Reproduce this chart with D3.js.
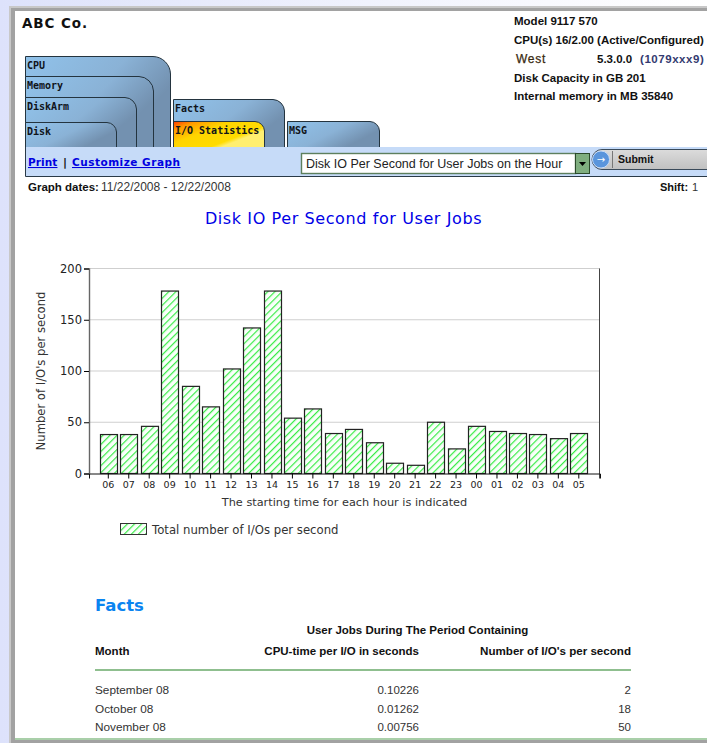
<!DOCTYPE html>
<html>
<head>
<meta charset="utf-8">
<script src="https://cdn.jsdelivr.net/npm/d3@7"></script>
<style>
  html, body { margin: 0; padding: 0; background: #fff; overflow: hidden; }
  svg { display: block; }
</style>
</head>
<body>
<script>
const hours = ["06","07","08","09","10","11","12","13","14","15","16","17","18","19","20","21","22","23","00","01","02","03","04","05"];
const ioPerSecond = [38,38,46,178,85,65,102,142,178,54,63,39,43,30,10,8,50,24,46,41,39,38,34,39];
const yTicks = [0,50,100,150,200];

const tabNames = ["CPU","Memory","DiskArm","Disk","Facts","I/O Statistics","MSG"];
const infoLines = ["Model 9117 570","CPU(s) 16/2.00 (Active/Configured)","Disk Capacity in GB 201","Internal memory in MB 35840"];
const months = ["September 08","October 08","November 08"];
const cpuPerIo = ["0.10226","0.01262","0.00756"];
const ioCounts = ["2","18","50"];

const sans = "'Liberation Sans', Arial, sans-serif";
const dejavu = "'DejaVu Sans', sans-serif";
const mono = "'DejaVu Sans Mono', monospace";

const svg = d3.select("body").append("svg").attr("width", 707).attr("height", 743);
const defs = svg.append("defs");

const addGradient = (id, stops, x2, y2) => {
  const g = defs.append("linearGradient").attr("id", id)
    .attr("x1", 0).attr("y1", 0).attr("x2", x2).attr("y2", y2);
  stops.forEach(s => g.append("stop").attr("offset", s[0]).attr("stop-color", s[1]));
};
addGradient("pageBg", [[0,"#dde2fb"],[0.55,"#f1f3fd"],[1,"#ffffff"]], 1, 0);
addGradient("tabBlue", [[0,"#90c2ea"],[0.6,"#8ab2d6"],[1,"#7391b0"]], 0.9, 0.5);
addGradient("tabHot", [[0,"#ff3c00"],[0.2,"#ff9a00"],[0.5,"#ffd400"],[0.9,"#ffdc00"],[1,"#ffef70"]], 0.8, 0.6);
addGradient("btnGrey", [[0,"#dcdcdc"],[1,"#c0c0c0"]], 0, 1);

const hatch = defs.append("pattern").attr("id", "hatch")
  .attr("width", 5).attr("height", 5)
  .attr("patternUnits", "userSpaceOnUse")
  .attr("patternTransform", "rotate(45)");
hatch.append("rect").attr("width", 5).attr("height", 5).attr("fill", "#fafffa");
hatch.append("rect").attr("width", 1.2).attr("height", 5).attr("fill", "#38ec46");

// page background and window frame
svg.append("rect").attr("width", 707).attr("height", 743).attr("fill", "url(#pageBg)");
svg.append("rect").attr("x", 9).attr("y", 6).attr("width", 720).attr("height", 760).attr("fill", "#c8c8c8");
svg.append("rect").attr("x", 11).attr("y", 8).attr("width", 720).attr("height", 760).attr("fill", "#a2a2a2");
svg.append("rect").attr("x", 15).attr("y", 11).attr("width", 720).attr("height", 729).attr("fill", "#fff");
svg.append("rect").attr("x", 15).attr("y", 738).attr("width", 692).attr("height", 2).attr("fill", "#a9cfa9");

const label = (x, y, str, size, opts = {}) => svg.append("text")
  .attr("x", x).attr("y", y).text(str)
  .attr("font-family", opts.family || sans)
  .attr("font-size", size)
  .attr("font-weight", opts.weight || "normal")
  .attr("fill", opts.fill || "#111")
  .attr("text-anchor", opts.anchor || "start")
  .attr("letter-spacing", opts.spacing || 0);

// header
label(22, 28, "ABC Co.", 13.5, {family: dejavu, weight: "bold", spacing: 0.9});
const infoY = [25, 44, 82, 100];
infoLines.forEach((d, i) => label(514, infoY[i], d, 11.5, {weight: "bold"}));
label(516, 63, "West", 12, {fill: "#3a2a10", spacing: 0.7, weight: "bold"}).attr("font-weight", "normal").attr("stroke", "#3a2a10").attr("stroke-width", 0.25);
label(597, 63, "5.3.0.0", 11.5, {weight: "bold"});
label(640, 63, "(1079xxx9)", 11.5, {weight: "bold", fill: "#333a70", spacing: 0.55});

// tabs, back to front
const tabBoxes = [
  {x0: 25, x1: 171, top: 56, r: 18},
  {x0: 25, x1: 154, top: 76, r: 15},
  {x0: 25, x1: 137, top: 97, r: 12},
  {x0: 25, x1: 117, top: 122, r: 10},
  {x0: 173, x1: 285, top: 99, r: 12},
  {x0: 173, x1: 265, top: 121, r: 10, hot: true},
  {x0: 287, x1: 380, top: 121, r: 10}
];
const labelX = [27, 27, 27, 27, 175, 175, 289];
const labelY = [69, 89, 110, 135, 112, 134, 134];
const tabBottom = 148;
svg.selectAll("path.tab").data(tabBoxes).enter().append("path")
  .attr("class", "tab")
  .attr("d", d => `M${d.x0 + 0.5},${tabBottom}V${d.top + 0.5}H${d.x1 - d.r}` +
    `A${d.r},${d.r} 0 0 1 ${d.x1 - 0.5},${d.top + d.r}V${tabBottom}`)
  .attr("fill", d => d.hot ? "url(#tabHot)" : "url(#tabBlue)")
  .attr("stroke", "#24343f");
tabNames.forEach((d, i) => label(labelX[i], labelY[i], d, 10, {family: mono, weight: "bold", fill: "#10141a"}));

// toolbar
svg.append("rect").attr("x", 25).attr("y", 147).attr("width", 690).attr("height", 29).attr("fill", "#c6dbf8");
svg.append("path").attr("d", "M25.5,147V176.5H707").attr("fill", "none").attr("stroke", "#2a3a48");
label(28, 166, "Print", 10.5, {family: dejavu, weight: "bold", fill: "#0000e0", spacing: 0.1}).attr("text-decoration", "underline");
label(63, 166, "|", 11, {family: dejavu, weight: "bold"});
label(72, 166, "Customize Graph", 10.5, {family: dejavu, weight: "bold", fill: "#0000e0", spacing: 0.5}).attr("text-decoration", "underline");

svg.append("rect").attr("x", 301.5).attr("y", 153.5).attr("width", 274).attr("height", 20)
  .attr("fill", "#fff").attr("stroke", "#5d7f5d").attr("stroke-width", 1.4);
label(306, 168, "Disk IO Per Second for User Jobs on the Hour", 12.5, {fill: "#222"});
svg.append("rect").attr("x", 575.5).attr("y", 153.5).attr("width", 14).attr("height", 20)
  .attr("fill", "#7fae7f").attr("stroke", "#2c4a2c");
svg.append("path").attr("d", "M579,162h7l-3.5,4z").attr("fill", "#000");

svg.append("rect").attr("x", 592).attr("y", 149.5).attr("width", 130).attr("height", 20).attr("rx", 10)
  .attr("fill", "url(#btnGrey)").attr("stroke", "#3a4a5a");
svg.append("circle").attr("cx", 601).attr("cy", 159.5).attr("r", 8.5).attr("fill", "#5a95dc").attr("stroke", "#c6dbf8");
label(601, 163, "→", 10, {fill: "#fff", anchor: "middle", family: dejavu});
svg.append("line").attr("x1", 612.5).attr("x2", 612.5).attr("y1", 151).attr("y2", 168).attr("stroke", "#777");
label(618, 163, "Submit", 10.5, {weight: "bold"});

label(28, 191, "Graph dates:", 11.5, {weight: "bold"});
label(101, 191, "11/22/2008 - 12/22/2008", 12, {fill: "#333"});
label(660, 191, "Shift:", 11, {weight: "bold"});
label(692, 191, "1", 11, {fill: "#333"});

// chart
const plotLeft = 89, plotRight = 600, plotTop = 268.5, plotBottom = 473.5;
const x = d3.scaleBand().domain(hours).range([plotLeft, plotRight]).paddingInner(0.18).paddingOuter(0.58).align(0.46);
const y = d3.scaleLinear().domain([0, 200]).range([plotBottom, plotTop]);

label(343.5, 224, "Disk IO Per Second for User Jobs", 16, {family: dejavu, fill: "#0000e6", anchor: "middle", spacing: 0.6});

svg.append("g").selectAll("line").data(yTicks.filter(d => d > 0)).enter().append("line")
  .attr("x1", plotLeft).attr("x2", plotRight)
  .attr("y1", d => y(d)).attr("y2", d => y(d))
  .attr("stroke", "#cfcfcf");
svg.append("line").attr("x1", plotRight - 0.5).attr("x2", plotRight - 0.5)
  .attr("y1", plotTop).attr("y2", plotBottom + 5).attr("stroke", "#444");

svg.append("g").selectAll("rect").data(ioPerSecond).enter().append("rect")
  .attr("x", (d, i) => Math.round(x(hours[i])) + 0.5)
  .attr("width", Math.round(x.bandwidth()))
  .attr("y", d => y(d))
  .attr("height", d => plotBottom - y(d))
  .attr("fill", "url(#hatch)")
  .attr("stroke", "#222")
  .attr("stroke-width", 1.2);

const yAxis = d3.axisLeft(y).tickValues(yTicks).tickSize(5).tickPadding(2);
const yG = svg.append("g").attr("transform", `translate(${plotLeft},0)`).call(yAxis);
yG.select(".domain").attr("stroke", "#666").attr("stroke-width", 1.4);
yG.selectAll("text").attr("font-family", dejavu).attr("font-size", 11.5).attr("fill", "#222");

const xAxis = d3.axisBottom(x).tickSize(5).tickSizeOuter(5).tickPadding(3);
const xG = svg.append("g").attr("transform", `translate(0,${plotBottom})`).call(xAxis);
xG.select(".domain").attr("stroke", "#111");
xG.selectAll("text").attr("font-family", dejavu).attr("font-size", 9.5).attr("fill", "#222");

label(344.5, 506, "The starting time for each hour is indicated", 11.3, {family: dejavu, fill: "#333", anchor: "middle"});
svg.append("text").attr("transform", "translate(45,371) rotate(-90)")
  .attr("text-anchor", "middle").attr("font-family", dejavu).attr("font-size", 11.6).attr("fill", "#333")
  .text("Number of I/O's per second");

svg.append("rect").attr("x", 120.5).attr("y", 523.5).attr("width", 26).attr("height", 11)
  .attr("fill", "url(#hatch)").attr("stroke", "#333");
label(152, 534, "Total number of I/Os per second", 11.7, {family: dejavu, fill: "#333"});

// facts table
label(95, 611, "Facts", 16.5, {family: dejavu, weight: "bold", fill: "#0a84f0"});
label(417.5, 634, "User Jobs During The Period Containing", 11.5, {weight: "bold", anchor: "middle"});
label(95, 655, "Month", 11.5, {weight: "bold"});
label(419, 655, "CPU-time per I/O in seconds", 11.5, {weight: "bold", anchor: "end"});
label(631, 655, "Number of I/O's per second", 11.6, {weight: "bold", anchor: "end"});
svg.append("rect").attr("x", 95).attr("y", 669).attr("width", 536).attr("height", 2).attr("fill", "#8fbf8f");

const rowY = d3.scalePoint().domain(months).range([694, 731]);
months.forEach((m, i) => {
  label(95, rowY(m), m, 11.8, {fill: "#333"});
  label(419, rowY(m), cpuPerIo[i], 11.5, {fill: "#333", anchor: "end"});
  label(631, rowY(m), ioCounts[i], 11.5, {fill: "#333", anchor: "end"});
});
</script>
</body>
</html>
